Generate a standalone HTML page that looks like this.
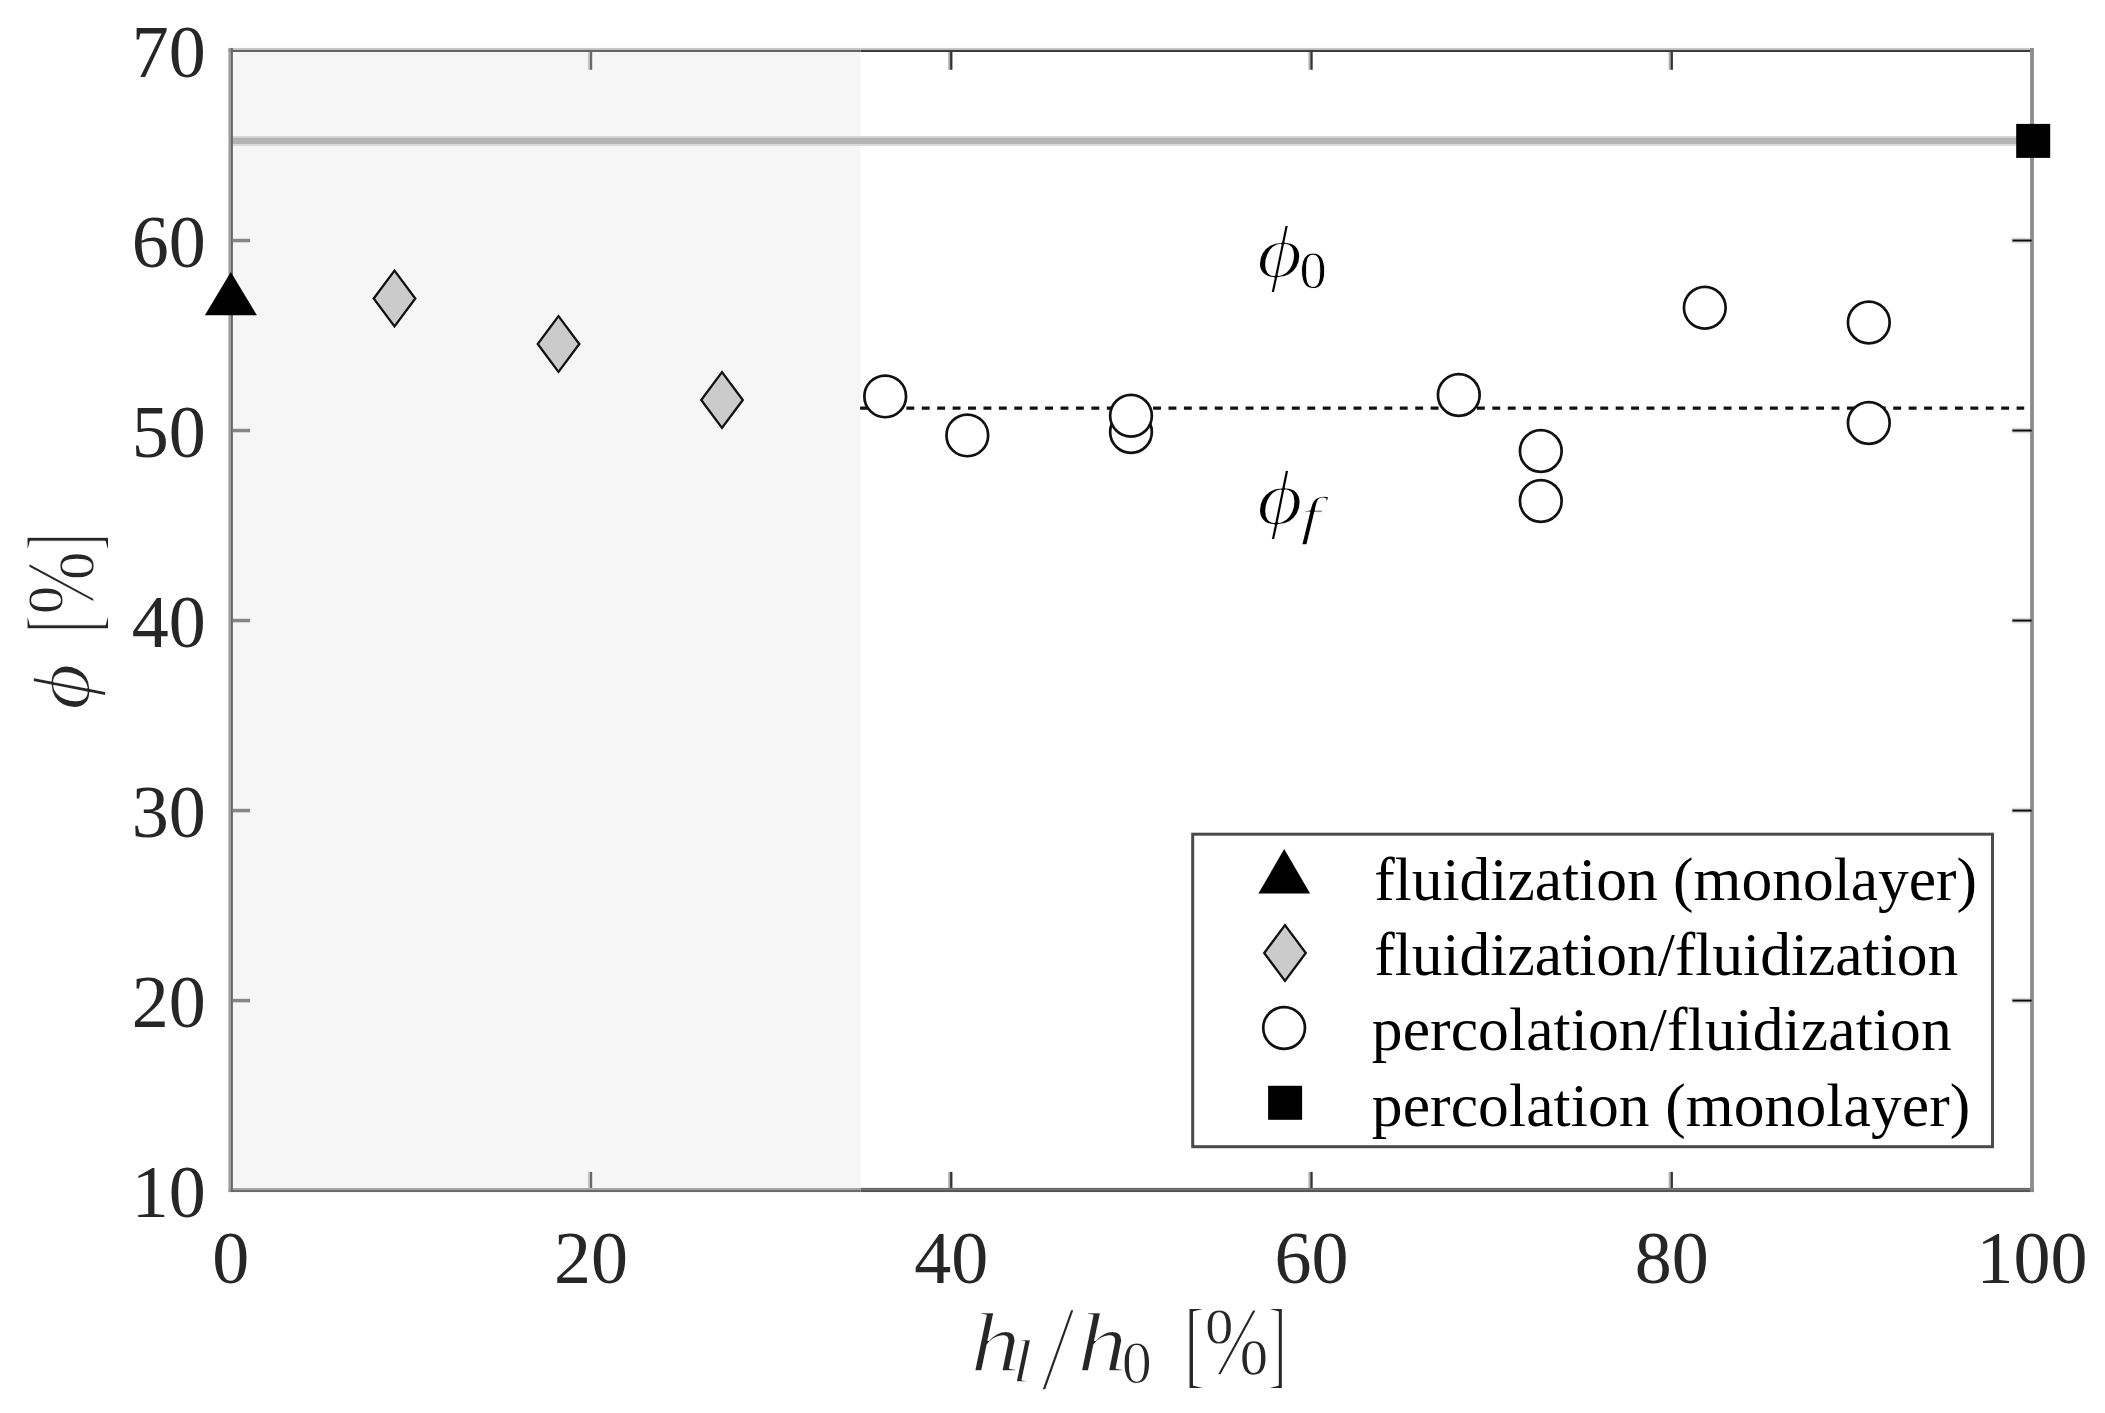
<!DOCTYPE html>
<html lang="en"><head><meta charset="utf-8"><title>Solid fraction versus layer height ratio</title>
<style>html,body{margin:0;padding:0;background:#fff;}body{width:2105px;height:1413px;overflow:hidden;}svg{display:block;font-family:"Liberation Serif","DejaVu Serif",serif;}.tk{font-size:74px;fill:#262626;}.lg{font-size:61.5px;fill:#000;}</style></head><body>
<svg width="2105" height="1413" viewBox="0 0 2105 1413">
<rect x="0" y="0" width="2105" height="1413" fill="#fff"/>
<rect x="230.8" y="50.5" width="629.8" height="1136.4" fill="#f6f6f6"/>
<line x1="230.8" y1="140.9" x2="2020" y2="140.9" stroke="#d9d9d9" stroke-width="10"/>
<line x1="230.8" y1="140.9" x2="2020" y2="140.9" stroke="#b3b3b3" stroke-width="6.4"/>
<rect x="228.60" y="47.95" width="632.00" height="1.95" fill="#c8c8c8"/>
<rect x="228.60" y="49.90" width="632.00" height="2.10" fill="#646464"/>
<rect x="860.60" y="47.95" width="1173.30" height="1.95" fill="#c8c8c8"/>
<rect x="860.60" y="49.90" width="1173.30" height="2.10" fill="#3c3c3c"/>
<rect x="228.60" y="1187.90" width="632.00" height="1.90" fill="#a6a6a6"/>
<rect x="228.60" y="1189.80" width="632.00" height="2.25" fill="#6a6a6a"/>
<rect x="860.60" y="1187.90" width="1173.30" height="1.90" fill="#666"/>
<rect x="860.60" y="1189.80" width="1173.30" height="2.25" fill="#555"/>
<rect x="228.45" y="47.95" width="2.35" height="1144.10" fill="#9c9c9c"/>
<rect x="230.80" y="47.95" width="2.10" height="1144.10" fill="#666"/>
<rect x="2030.10" y="47.95" width="3.80" height="1144.10" fill="#8d8d8d"/>
<rect x="587.94" y="52.00" width="1.90" height="17.80" fill="#c4c4c4"/>
<rect x="589.84" y="52.00" width="2.35" height="17.80" fill="#6a6a6a"/>
<rect x="587.94" y="1171.90" width="1.90" height="16.00" fill="#c4c4c4"/>
<rect x="589.84" y="1171.90" width="2.35" height="16.00" fill="#6a6a6a"/>
<rect x="948.18" y="52.00" width="1.90" height="17.80" fill="#b0b0b0"/>
<rect x="950.08" y="52.00" width="2.35" height="17.80" fill="#343434"/>
<rect x="948.18" y="1171.90" width="1.90" height="16.00" fill="#b0b0b0"/>
<rect x="950.08" y="1171.90" width="2.35" height="16.00" fill="#343434"/>
<rect x="1308.42" y="52.00" width="1.90" height="17.80" fill="#b0b0b0"/>
<rect x="1310.32" y="52.00" width="2.35" height="17.80" fill="#343434"/>
<rect x="1308.42" y="1171.90" width="1.90" height="16.00" fill="#b0b0b0"/>
<rect x="1310.32" y="1171.90" width="2.35" height="16.00" fill="#343434"/>
<rect x="1668.66" y="52.00" width="1.90" height="17.80" fill="#b0b0b0"/>
<rect x="1670.56" y="52.00" width="2.35" height="17.80" fill="#343434"/>
<rect x="1668.66" y="1171.90" width="1.90" height="16.00" fill="#b0b0b0"/>
<rect x="1670.56" y="1171.90" width="2.35" height="16.00" fill="#343434"/>
<rect x="232.90" y="998.83" width="17.20" height="3.50" fill="#868686"/>
<rect x="2011.60" y="997.78" width="18.50" height="5.60" fill="#dcdcdc"/>
<rect x="2012.40" y="999.58" width="19.20" height="2.00" fill="#0c0c0c"/>
<rect x="232.90" y="808.82" width="17.20" height="3.50" fill="#868686"/>
<rect x="2011.60" y="807.77" width="18.50" height="5.60" fill="#dcdcdc"/>
<rect x="2012.40" y="809.57" width="19.20" height="2.00" fill="#0c0c0c"/>
<rect x="232.90" y="618.80" width="17.20" height="3.50" fill="#868686"/>
<rect x="2011.60" y="617.75" width="18.50" height="5.60" fill="#dcdcdc"/>
<rect x="2012.40" y="619.55" width="19.20" height="2.00" fill="#0c0c0c"/>
<rect x="232.90" y="428.78" width="17.20" height="3.50" fill="#868686"/>
<rect x="2011.60" y="427.73" width="18.50" height="5.60" fill="#dcdcdc"/>
<rect x="2012.40" y="429.53" width="19.20" height="2.00" fill="#0c0c0c"/>
<rect x="232.90" y="238.77" width="17.20" height="3.50" fill="#868686"/>
<rect x="2011.60" y="237.72" width="18.50" height="5.60" fill="#dcdcdc"/>
<rect x="2012.40" y="239.52" width="19.20" height="2.00" fill="#0c0c0c"/>
<text class="tk" x="230.8" y="1282.7" text-anchor="middle">0</text>
<text class="tk" x="591.0" y="1282.7" text-anchor="middle">20</text>
<text class="tk" x="951.3" y="1282.7" text-anchor="middle">40</text>
<text class="tk" x="1311.5" y="1282.7" text-anchor="middle">60</text>
<text class="tk" x="1671.8" y="1282.7" text-anchor="middle">80</text>
<text class="tk" x="2032.0" y="1282.7" text-anchor="middle">100</text>
<text class="tk" x="205.8" y="1216.6" text-anchor="end">10</text>
<text class="tk" x="205.8" y="1026.6" text-anchor="end">20</text>
<text class="tk" x="205.8" y="836.6" text-anchor="end">30</text>
<text class="tk" x="205.8" y="646.5" text-anchor="end">40</text>
<text class="tk" x="205.8" y="456.5" text-anchor="end">50</text>
<text class="tk" x="205.8" y="266.5" text-anchor="end">60</text>
<text class="tk" x="205.8" y="76.5" text-anchor="end">70</text>
<line x1="860.1" y1="408.1" x2="2024.2" y2="408.1" stroke="#111" stroke-width="3.2" stroke-dasharray="7.9 7.52"/>
<polygon points="230.8,271.9 256.9,315.3 204.9,315.3" fill="#000"/>
<polygon points="394.5,270.6 415.3,298.5 394.5,326.4 373.7,298.5" fill="#cbcbcb" stroke="#111" stroke-width="2.3" stroke-linejoin="miter"/>
<polygon points="558.5,316.1 579.3,344 558.5,371.9 537.7,344" fill="#cbcbcb" stroke="#111" stroke-width="2.3" stroke-linejoin="miter"/>
<polygon points="722,372.1 742.8,400 722,427.9 701.2,400" fill="#cbcbcb" stroke="#111" stroke-width="2.3" stroke-linejoin="miter"/>
<circle cx="885.2" cy="396.4" r="20.85" fill="#fff" stroke="#111" stroke-width="2.7"/>
<circle cx="967.3" cy="435.4" r="20.85" fill="#fff" stroke="#111" stroke-width="2.7"/>
<circle cx="1131" cy="432" r="20.85" fill="#fff" stroke="#111" stroke-width="2.7"/>
<circle cx="1131" cy="415.8" r="20.85" fill="#fff" stroke="#111" stroke-width="2.7"/>
<circle cx="1458.8" cy="395" r="20.85" fill="#fff" stroke="#111" stroke-width="2.7"/>
<circle cx="1540.8" cy="451" r="20.85" fill="#fff" stroke="#111" stroke-width="2.7"/>
<circle cx="1540.8" cy="501" r="20.85" fill="#fff" stroke="#111" stroke-width="2.7"/>
<circle cx="1704.8" cy="307.8" r="20.85" fill="#fff" stroke="#111" stroke-width="2.7"/>
<circle cx="1868.8" cy="322.5" r="20.85" fill="#fff" stroke="#111" stroke-width="2.7"/>
<circle cx="1868.8" cy="423" r="20.85" fill="#fff" stroke="#111" stroke-width="2.7"/>
<rect x="2016.2" y="123.9" width="34" height="34" fill="#000"/>
<text transform="translate(1256.87,276.93) scale(0.8829,0.7499)" font-size="100" style="font-style:italic;" fill="#000" stroke="#fff" stroke-width="2.20" vector-effect="non-scaling-stroke" stroke-linejoin="round">ϕ</text>
<text transform="translate(1299.52,287.59) scale(0.5450,0.5216)" font-size="100" style="" fill="#000" stroke="#fff" stroke-width="0.80" vector-effect="non-scaling-stroke" stroke-linejoin="round">0</text>
<text transform="translate(1256.75,524.44) scale(0.8914,0.7687)" font-size="100" style="font-style:italic;" fill="#000" stroke="#fff" stroke-width="2.20" vector-effect="non-scaling-stroke" stroke-linejoin="round">ϕ</text>
<text transform="translate(1300.39,533.97) scale(0.7254,0.5180)" font-size="100" style="font-style:italic;" fill="#000" stroke="#fff" stroke-width="1.60" vector-effect="non-scaling-stroke" stroke-linejoin="round">f</text>
<g aria-label="h_l / h_0 [%]">
<text transform="translate(970.43,1370.95) scale(1.0015,0.8489)" font-size="100" style="font-style:italic;" fill="#262626" stroke="#fff" stroke-width="1.90" vector-effect="non-scaling-stroke" stroke-linejoin="round">h</text>
<text transform="translate(1011.89,1382.40) scale(0.7353,0.6068)" font-size="100" style="font-style:italic;" fill="#262626" stroke="#fff" stroke-width="1.40" vector-effect="non-scaling-stroke" stroke-linejoin="round">l</text>
<text transform="translate(1040.20,1389.59) scale(1.2813,1.2348)" font-size="100" style="" fill="#262626" stroke="#fff" stroke-width="3.60" vector-effect="non-scaling-stroke" stroke-linejoin="round">/</text>
<text transform="translate(1077.14,1370.95) scale(0.9991,0.8489)" font-size="100" style="font-style:italic;" fill="#262626" stroke="#fff" stroke-width="1.90" vector-effect="non-scaling-stroke" stroke-linejoin="round">h</text>
<text transform="translate(1121.71,1382.71) scale(0.6017,0.6046)" font-size="100" style="" fill="#262626" stroke="#fff" stroke-width="1.00" vector-effect="non-scaling-stroke" stroke-linejoin="round">0</text>
<text transform="translate(1184.47,1375.77) scale(0.5973,0.9739)" font-size="100" style="" fill="#262626" stroke="#fff" stroke-width="1.60" vector-effect="non-scaling-stroke" stroke-linejoin="round">[</text>
<text transform="translate(1204.35,1373.51) scale(0.7755,0.9820)" font-size="100" style="" fill="#262626" stroke="#fff" stroke-width="1.60" vector-effect="non-scaling-stroke" stroke-linejoin="round">%</text>
<text transform="translate(1268.22,1375.77) scale(0.5479,0.9739)" font-size="100" style="" fill="#262626" stroke="#fff" stroke-width="1.60" vector-effect="non-scaling-stroke" stroke-linejoin="round">]</text>
</g>
<g aria-label="phi [%]">
<text transform="rotate(-90) translate(-709.96,88.57) scale(0.8977,0.8139)" font-size="100" style="font-style:italic;" fill="#262626" stroke="#fff" stroke-width="1.80" vector-effect="non-scaling-stroke" stroke-linejoin="round">ϕ</text>
<text transform="rotate(-90) translate(-632.67,95.53) scale(0.5210,0.9847)" font-size="100" style="" fill="#262626" stroke="#fff" stroke-width="1.60" vector-effect="non-scaling-stroke" stroke-linejoin="round">[</text>
<text transform="rotate(-90) translate(-614.71,92.51) scale(0.7651,0.9820)" font-size="100" style="" fill="#262626" stroke="#fff" stroke-width="1.60" vector-effect="non-scaling-stroke" stroke-linejoin="round">%</text>
<text transform="rotate(-90) translate(-550.68,95.53) scale(0.5210,0.9847)" font-size="100" style="" fill="#262626" stroke="#fff" stroke-width="1.60" vector-effect="non-scaling-stroke" stroke-linejoin="round">]</text>
</g>
<rect x="1192.7" y="834.2" width="799.8" height="312.5" fill="#fff" stroke="#4a4a4a" stroke-width="3"/>
<polygon points="1284.2,849.1 1310.1,893.6 1258.4,893.6" fill="#000"/>
<polygon points="1285,925.1 1305.8,953 1285,980.9 1264.2,953" fill="#cbcbcb" stroke="#111" stroke-width="2.3"/>
<circle cx="1284.1" cy="1028.0" r="20.85" fill="#fff" stroke="#111" stroke-width="2.7"/>
<rect x="1268.1" y="1085.8" width="34" height="34" fill="#000"/>
<text class="lg" x="1374.2" y="899.8">fluidization (monolayer)</text>
<text class="lg" x="1374.2" y="975.1">fluidization/fluidization</text>
<text class="lg" x="1371.8" y="1050.4" letter-spacing="0.115">percolation/fluidization</text>
<text class="lg" x="1371.8" y="1125.7" letter-spacing="0.115">percolation (monolayer)</text>
</svg></body></html>
